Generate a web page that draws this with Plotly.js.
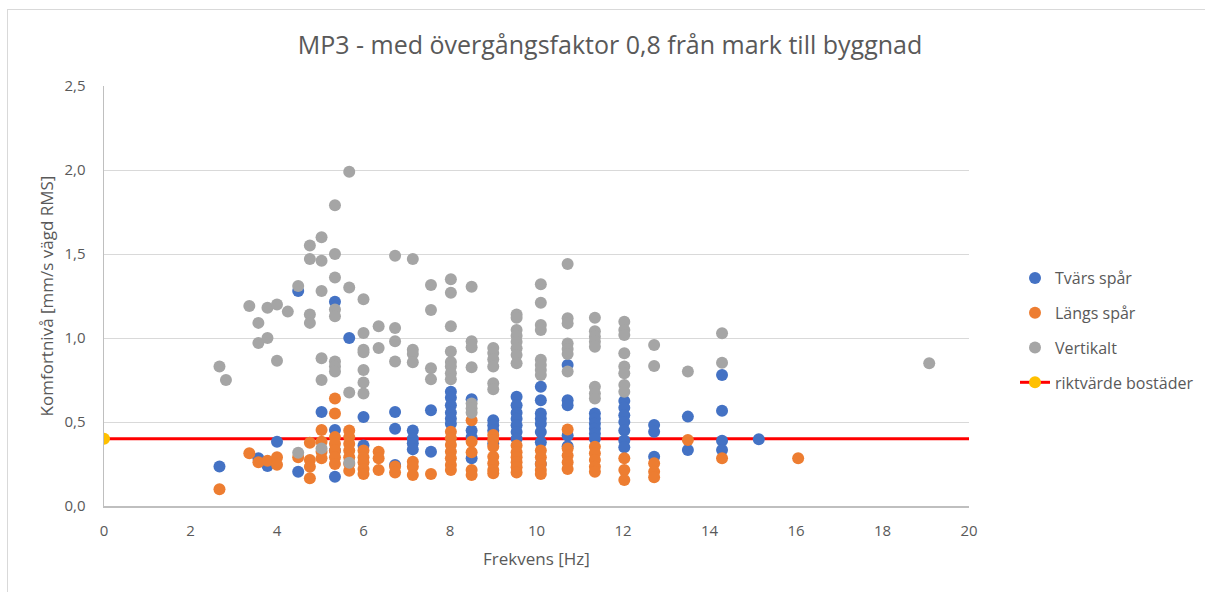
<!DOCTYPE html>
<html>
<head>
<meta charset="utf-8">
<script src="https://cdn.plot.ly/plotly-3.0.1.min.js"></script>
<style>
  html, body { margin: 0; padding: 0; background: #fff; }
  #wrap { position: relative; width: 1205px; height: 592px; overflow: hidden; }
  #chart { position: absolute; left: 0; top: 0; width: 1205px; height: 592px; }
  #frame { position: absolute; left: 7px; top: 9px; width: 1210px; height: 600px;
           border: 1px solid #d9d9d9; pointer-events: none; }
</style>
</head>
<body>
<div id="wrap">
  <div id="chart"></div>
  <div id="frame"></div>
</div>
<script>
// ---- Data ----
const chartTitle = "MP3 - med övergångsfaktor 0,8 från mark till byggnad";
const xTitle = "Frekvens [Hz]";
const yTitle = "Komfortnivå [mm/s vägd RMS]";
const seriesNames = ["Tvärs spår", "Längs spår", "Vertikalt", "riktvärde bostäder"];

// Tvärs spår (blue)
const tvarsX = [2.67, 3.57, 3.78, 4.0, 4.49, 4.49, 5.03,
  5.34, 5.34, 5.34, 5.34, 5.67, 6.0, 6.0,
  6.73, 6.73, 6.73, 7.14, 7.14, 7.14, 7.14, 7.56, 7.56,
  8.02, 8.02, 8.02, 8.02, 8.02, 8.02, 8.5, 8.5, 8.5, 8.5,
  9.0, 9.0, 9.0, 9.0, 9.54, 9.54, 9.54, 9.54, 9.54, 9.54, 9.54,
  10.1, 10.1, 10.1, 10.1, 10.1, 10.1, 10.1, 10.1,
  10.72, 10.72, 10.72, 10.72, 10.72,
  11.35, 11.35, 11.35, 11.35, 11.35, 11.35,
  12.03, 12.03, 12.03, 12.03, 12.03, 12.03, 12.03,
  12.72, 12.72, 12.72, 13.5, 13.5, 14.29, 14.29, 14.29, 14.29, 15.14];
const tvarsY = [0.235, 0.284, 0.238, 0.383, 1.28, 0.204, 0.56,
  1.216, 0.452, 0.33, 0.174, 1.00, 0.53, 0.36,
  0.56, 0.46, 0.244, 0.45, 0.40, 0.373, 0.337, 0.57, 0.323,
  0.68, 0.645, 0.60, 0.555, 0.52, 0.49, 0.635, 0.45, 0.41, 0.284,
  0.51, 0.48, 0.45, 0.37, 0.65, 0.60, 0.555, 0.52, 0.48, 0.44, 0.40,
  0.71, 0.63, 0.55, 0.52, 0.49, 0.44, 0.38, 0.25,
  0.84, 0.63, 0.60, 0.42, 0.355,
  0.55, 0.52, 0.49, 0.46, 0.43, 0.40,
  0.625, 0.585, 0.54, 0.50, 0.45, 0.39, 0.35,
  0.482, 0.442, 0.293, 0.532, 0.333, 0.78, 0.567, 0.389, 0.333, 0.397];

// Längs spår (orange)
const langsX = [2.67, 3.36, 3.57, 3.78, 4.0, 4.0, 4.49,
  4.76, 4.76, 4.76, 4.76, 5.03, 5.03, 5.03, 5.03,
  5.34, 5.34, 5.34, 5.34, 5.34, 5.34, 5.34,
  5.67, 5.67, 5.67, 5.67, 5.67, 5.67, 5.67,
  6.0, 6.0, 6.0, 6.0, 6.0, 6.35, 6.35, 6.35, 6.73, 6.73,
  7.14, 7.14, 7.14, 7.56,
  8.02, 8.02, 8.02, 8.02, 8.02, 8.02, 8.02,
  8.5, 8.5, 8.5, 8.5, 8.5,
  9.0, 9.0, 9.0, 9.0, 9.0, 9.0, 9.0,
  9.54, 9.54, 9.54, 9.54, 9.54, 9.54,
  10.1, 10.1, 10.1, 10.1, 10.1,
  10.72, 10.72, 10.72, 10.72, 10.72,
  11.35, 11.35, 11.35, 11.35, 11.35,
  12.03, 12.03, 12.03, 12.72, 12.72, 12.72, 13.5, 14.29, 16.05];
const langsY = [0.10, 0.314, 0.26, 0.27, 0.29, 0.245, 0.29,
  0.377, 0.274, 0.234, 0.165, 0.452, 0.383, 0.323, 0.284,
  0.64, 0.55, 0.41, 0.37, 0.33, 0.29, 0.25,
  0.45, 0.41, 0.37, 0.33, 0.29, 0.25, 0.21,
  0.33, 0.29, 0.26, 0.22, 0.19, 0.323, 0.284, 0.214, 0.235, 0.20,
  0.264, 0.234, 0.185, 0.19,
  0.442, 0.403, 0.363, 0.323, 0.284, 0.244, 0.214,
  0.51, 0.383, 0.32, 0.214, 0.185,
  0.423, 0.393, 0.353, 0.293, 0.254, 0.214, 0.195,
  0.36, 0.32, 0.29, 0.26, 0.23, 0.20,
  0.33, 0.29, 0.25, 0.215, 0.19,
  0.456, 0.343, 0.30, 0.26, 0.22,
  0.353, 0.314, 0.274, 0.234, 0.204,
  0.284, 0.214, 0.155, 0.254, 0.204, 0.171, 0.393, 0.284, 0.284];

// Vertikalt (grey)
const vertX = [2.67, 2.82, 3.36, 3.57, 3.57, 3.78, 3.78, 4.0, 4.0, 4.25, 4.49, 4.49,
  4.76, 4.76, 4.76, 4.76, 5.03, 5.03, 5.03, 5.03, 5.03, 5.03,
  5.34, 5.34, 5.34, 5.34, 5.34, 5.34, 5.34, 5.34,
  5.67, 5.67, 5.67, 5.67,
  6.0, 6.0, 6.0, 6.0, 6.0, 6.0, 6.0, 6.35, 6.35,
  6.73, 6.73, 6.73, 6.73, 7.14, 7.14, 7.14, 7.14, 7.56, 7.56, 7.56, 7.56,
  8.02, 8.02, 8.02, 8.02, 8.02, 8.02, 8.02, 8.02,
  8.5, 8.5, 8.5, 8.5, 8.5, 8.5, 8.5,
  9.0, 9.0, 9.0, 9.0, 9.0, 9.0,
  9.54, 9.54, 9.54, 9.54, 9.54, 9.54, 9.54, 9.54,
  10.1, 10.1, 10.1, 10.1, 10.1, 10.1, 10.1, 10.1,
  10.72, 10.72, 10.72, 10.72, 10.72, 10.72, 10.72,
  11.35, 11.35, 11.35, 11.35, 11.35, 11.35, 11.35, 11.35,
  12.03, 12.03, 12.03, 12.03, 12.03, 12.03, 12.03, 12.03,
  12.72, 12.72, 13.5, 14.29, 14.29, 19.08];
const vertY = [0.83, 0.75, 1.19, 1.09, 0.97, 1.18, 1.00, 1.20, 0.865, 1.157, 1.31, 0.317,
  1.55, 1.47, 1.14, 1.09, 1.60, 1.46, 1.28, 0.88, 0.75, 0.343,
  1.79, 1.50, 1.36, 1.17, 1.13, 0.86, 0.83, 0.80,
  1.99, 1.30, 0.675, 0.258,
  1.23, 1.03, 0.93, 0.915, 0.81, 0.735, 0.67, 1.07, 0.94,
  1.49, 1.06, 0.98, 0.86, 1.47, 0.93, 0.905, 0.855, 1.315, 1.167, 0.82, 0.754,
  1.35, 1.27, 1.07, 0.92, 0.857, 0.83, 0.79, 0.754,
  1.305, 0.98, 0.945, 0.826, 0.61, 0.58, 0.555,
  0.94, 0.91, 0.873, 0.83, 0.73, 0.695,
  1.14, 1.12, 1.048, 1.014, 0.978, 0.939, 0.899, 0.85,
  1.32, 1.21, 1.077, 1.048, 0.87, 0.84, 0.81, 0.78,
  1.44, 1.117, 1.087, 0.968, 0.935, 0.905, 0.80,
  1.12, 1.04, 1.008, 0.978, 0.948, 0.71, 0.67, 0.64,
  1.097, 1.048, 1.018, 0.909, 0.83, 0.79, 0.72, 0.68,
  0.958, 0.833, 0.80, 1.028, 0.853, 0.85];

// riktvärde bostäder (guideline)
const riktX = [0, 30];
const riktY = [0.4, 0.4];

const xTicks = [0, 2, 4, 6, 8, 10, 12, 14, 16, 18, 20];
const yTicks = [0, 0.5, 1.0, 1.5, 2.0, 2.5];

// ---- Chart ----
const FONT = "Open Sans, Lato, sans-serif";
const TXT = "#595959";
const MS = 12;

const traces = [
  { x: riktX, y: riktY, name: seriesNames[3], type: "scatter", mode: "lines+markers",
    line: { color: "#ff0000", width: 3 }, marker: { color: "#ffc000", size: MS },
    legendrank: 4, legendgroup: "d", hoverinfo: "skip" },
  { x: tvarsX, y: tvarsY, name: seriesNames[0], type: "scatter", mode: "markers",
    marker: { color: "#4472c4", size: MS }, legendrank: 1, legendgroup: "a" },
  { x: langsX, y: langsY, name: seriesNames[1], type: "scatter", mode: "markers",
    marker: { color: "#ed7d31", size: MS }, legendrank: 2, legendgroup: "b" },
  { x: vertX, y: vertY, name: seriesNames[2], type: "scatter", mode: "markers",
    marker: { color: "#a5a5a5", size: MS }, legendrank: 3, legendgroup: "c" }
];

const layout = {
  width: 1205, height: 592,
  margin: { l: 104, r: 236, t: 86, b: 86 },
  paper_bgcolor: "#ffffff", plot_bgcolor: "#ffffff",
  separators: ", ",
  font: { family: FONT, color: TXT, size: 15 },
  title: { text: chartTitle, font: { family: FONT, size: 25, color: TXT },
           x: 610 / 1205, xanchor: "center", y: 1 - 45 / 592, yanchor: "middle" },
  xaxis: {
    range: [0, 20], tickvals: xTicks, ticktext: xTicks.map(String), automargin: false,
    showgrid: false, zeroline: false, showline: true, linecolor: "#bfbfbf", linewidth: 1.5,
    ticks: "", ticklabelstandoff: 10, tickfont: { size: 15, color: TXT },
    title: { text: xTitle, font: { size: 17, color: TXT }, standoff: 14 }, fixedrange: true
  },
  yaxis: {
    range: [0, 2.5], tickvals: yTicks, tickformat: ".1f", automargin: false,
    showgrid: true, gridcolor: "#d9d9d9", gridwidth: 1, zeroline: false,
    showline: true, linecolor: "#bfbfbf", linewidth: 1.5,
    ticks: "", ticklabelstandoff: 14, tickfont: { size: 15, color: TXT },
    title: { text: yTitle, font: { size: 17, color: TXT }, standoff: 6 }, fixedrange: true
  },
  showlegend: true,
  legend: { xref: "container", yref: "container", x: 1015 / 1205, xanchor: "left",
            y: 1 - 261 / 592, yanchor: "top",
            font: { size: 16, color: TXT }, tracegroupgap: 11, bgcolor: "rgba(0,0,0,0)" },
  hovermode: "closest"
};

Plotly.newPlot("chart", traces, layout, { displayModeBar: false, staticPlot: true });
</script>
</body>
</html>
